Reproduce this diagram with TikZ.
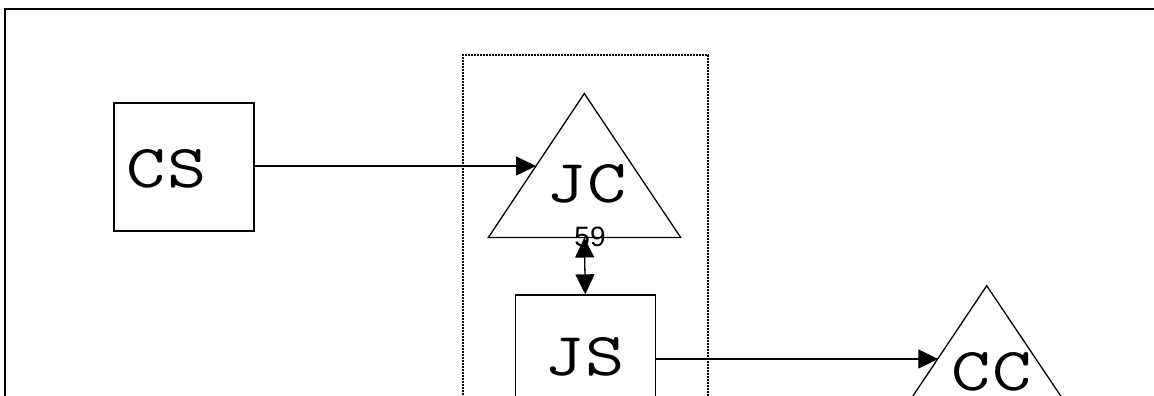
\documentclass[tikz,border=0pt]{standalone}
\usepackage{fontspec}
\newfontfamily\labelfont{Liberation Sans}
\usetikzlibrary{arrows.meta}
\tikzset{
  ln/.style={line width=1.3pt},
  boxst/.style={draw, line width=1.3pt, rectangle, minimum width=140pt, minimum height=128pt, inner sep=0pt},
  bigtext/.style={font=\ttfamily\fontsize{61}{61}\selectfont, inner sep=0pt, anchor=base},
  tip/.style={-{Triangle[length=20pt,width=19pt]}, line width=1.3pt},
  dtip/.style={{Triangle[length=20pt,width=19pt]}-{Triangle[length=20pt,width=19pt]}, line width=1.3pt},
  groupst/.style={line width=1.8pt, dash pattern=on 1.6pt off 1.4pt},
}
\newcommand{\wide}[1]{\scalebox{1.25}[1]{#1}}
\begin{document}
\begin{tikzpicture}[x=1pt,y=-1pt]
\useasboundingbox (0,0) rectangle (1154,396);
\clip (0,0) rectangle (1154,396);
\fill[white] (0,0) rectangle (1154,396);
% outer frame
\draw[line width=1.5pt] (5,500) -- (5,9) -- (1200,9);
% dotted group
\draw[groupst] (463.3,500) -- (463.3,55) -- (708.3,55) -- (708.3,500);
% CS box
\node[boxst] (cs) at (184,167) {};
\node[bigtext] (cst) at (166.7,187) {\wide{C}\hspace{1.5pt}\wide{S}};
% JC triangle
\coordinate (jcA) at (584.3,93.5);
\coordinate (jcL) at (488.3,237.5);
\coordinate (jcR) at (680.7,237.5);
\coordinate (jcB) at (584.3,237.5);
\coordinate (jcIn) at (536,166);
\draw[ln, line join=miter] (jcA) -- (jcL) -- (jcR) -- cycle;
\node[bigtext] (jct) at (586.5,202) {\wide{J}\hspace{1.5pt}\wide{C}};
% label 59
\node[font=\labelfont\fontsize{28}{28}\selectfont, inner sep=0pt, anchor=base] (lab) at (590,246.7) {59};
% JS box
\node[boxst] (js) at (585.3,359) {};
\node[bigtext] (jst) at (584.7,375) {\wide{J}\hspace{1.5pt}\wide{S}};
% CC triangle
\coordinate (ccA) at (986.7,285.7);
\coordinate (ccL) at (890.7,429.2);
\coordinate (ccR) at (1083.1,429.2);
\coordinate (ccIn) at (938.3,359);
\draw[ln, line join=miter] (ccA) -- (ccL) -- (ccR) -- cycle;
\node[bigtext] (cct) at (991.3,390) {\wide{C}\hspace{1.5pt}\wide{C}};
% connectors
\draw[tip] (cs.east |- jcIn) -- (jcIn);
\draw[dtip] (jcB) -- (js.north);
\draw[tip] (js.east) -- (ccIn);
\end{tikzpicture}
\end{document}
